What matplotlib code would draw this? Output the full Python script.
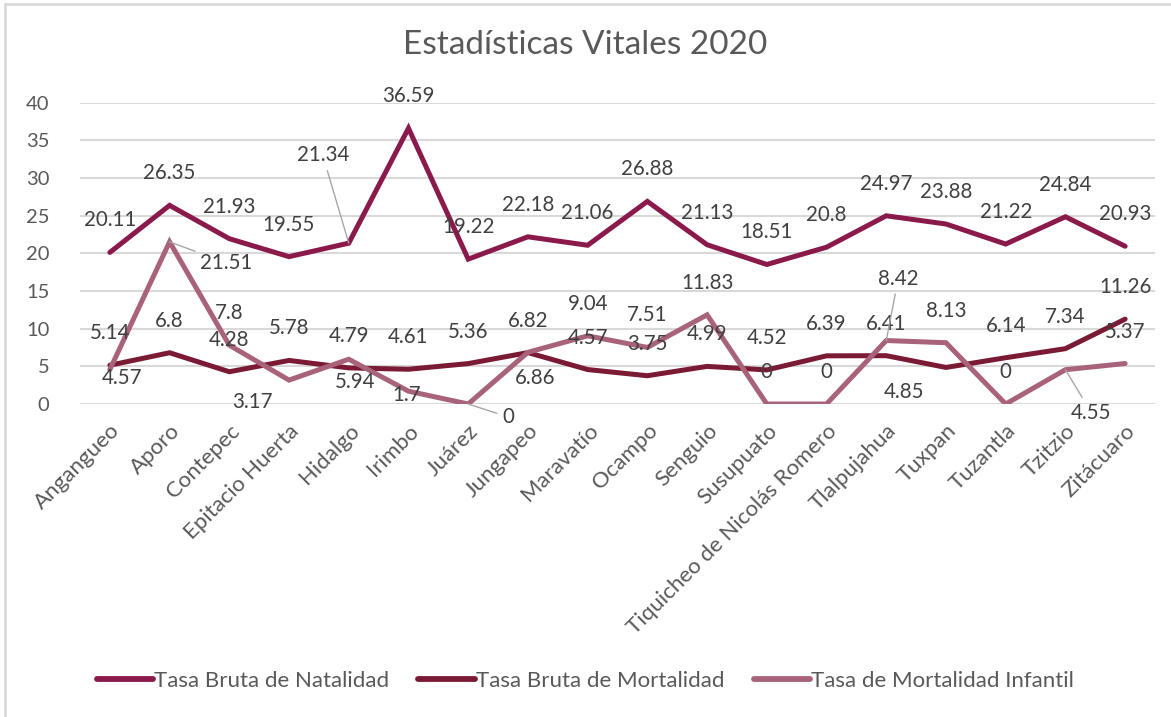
import matplotlib
matplotlib.use("Agg")
import matplotlib.pyplot as plt
from matplotlib.patches import Rectangle

plt.rcParams['font.family'] = ['Lato', 'DejaVu Sans']

municipios = ['Angangueo', 'Aporo', 'Contepec', 'Epitacio Huerta', 'Hidalgo', 'Irimbo',
              'Juárez', 'Jungapeo', 'Maravatío', 'Ocampo', 'Senguio', 'Susupuato',
              'Tiquicheo de Nicolás Romero', 'Tlalpujahua', 'Tuxpan', 'Tuzantla',
              'Tzitzio', 'Zitácuaro']
natalidad = [20.11, 26.35, 21.93, 19.55, 21.34, 36.59, 19.22, 22.18, 21.06, 26.88,
             21.13, 18.51, 20.8, 24.97, 23.88, 21.22, 24.84, 20.93]
mortalidad = [5.14, 6.8, 4.28, 5.78, 4.79, 4.61, 5.36, 6.82, 4.57, 3.75,
              4.99, 4.52, 6.39, 6.41, 4.85, 6.14, 7.34, 11.26]
infantil = [4.57, 21.51, 7.8, 3.17, 5.94, 1.7, 0, 6.86, 9.04, 7.51,
            11.83, 0, 0, 8.42, 8.13, 0, 4.55, 5.37]

series = [
    ('Tasa Bruta de Natalidad', natalidad, '#8A1A4B'),
    ('Tasa Bruta de Mortalidad', mortalidad, '#7B1A35'),
    ('Tasa de Mortalidad Infantil', infantil, '#A8637B'),
]

# label offsets in pixels (dx, dy up), default is above the point
default_off = (0, 32)
label_offsets = {
    0: {4: (-26, 88)},
    1: {14: (-42, -25)},
    2: {0: (12, -8), 1: (57, -21), 3: (-37, -22), 4: (6, -23), 5: (-2, -4),
        6: (40, -13), 7: (7, -26), 13: (12, 62), 16: (26, -43)},
}
leaders = {(0, 4), (2, 1), (2, 6), (2, 13), (2, 16)}

fig = plt.figure(figsize=(11.71, 7.17), dpi=100)
ax = fig.add_axes([80 / 1171, 1 - 404 / 717, 1075 / 1171, 301.5 / 717])

x = list(range(len(municipios)))
for si, (name, vals, color) in enumerate(series):
    ax.plot(x, vals, color=color, lw=3.6, solid_capstyle='round',
            solid_joinstyle='miter', label=name, zorder=3)
    for i, v in enumerate(vals):
        dx, dy = label_offsets.get(si, {}).get(i, default_off)
        kw = {}
        if (si, i) in leaders:
            kw['arrowprops'] = dict(arrowstyle='-', color='#A6A6A6', lw=1,
                                    shrinkA=2, shrinkB=0)
        ax.annotate(f'{v:g}', (i, v), xytext=(dx, dy), textcoords='offset pixels',
                    ha='center', va='center', fontsize=14.8, color='#404040',
                    zorder=4, **kw)

ax.set_xlim(-0.5, len(municipios) - 0.5)
ax.set_ylim(0, 40)
ax.set_yticks(range(0, 41, 5))
ax.grid(axis='y', color='#D9D9D9', lw=1.5)
ax.set_axisbelow(True)
for s in ax.spines.values():
    s.set_visible(False)
ax.tick_params(axis='y', length=0, labelsize=14.5, labelcolor='#595959', pad=22)
ax.set_xticks(x)
ax.set_xticklabels(municipios, rotation=45, ha='right', rotation_mode='anchor')
ax.tick_params(axis='x', length=0, labelsize=16, labelcolor='#595959', pad=12)

fig.text(0.5, 1 - 45 / 717, 'Estadísticas Vitales 2020', ha='center', va='center',
         fontsize=24, color='#595959')

leg = fig.legend(loc='center', bbox_to_anchor=(0.5, 1 - 681 / 717), ncol=3, frameon=False,
                 fontsize=16, labelcolor='#595959', handlelength=2.55, handletextpad=0.05,
                 columnspacing=1.3)
for h in leg.get_lines():
    h.set_linewidth(4.2)

fig.patches.append(Rectangle((5.5 / 1171, -0.1), 1.2, 1 - 4 / 717 + 0.1,
                             transform=fig.transFigure, fill=False,
                             edgecolor='#D9D9D9', lw=2, zorder=0))

fig.savefig('out.png', dpi=100)
